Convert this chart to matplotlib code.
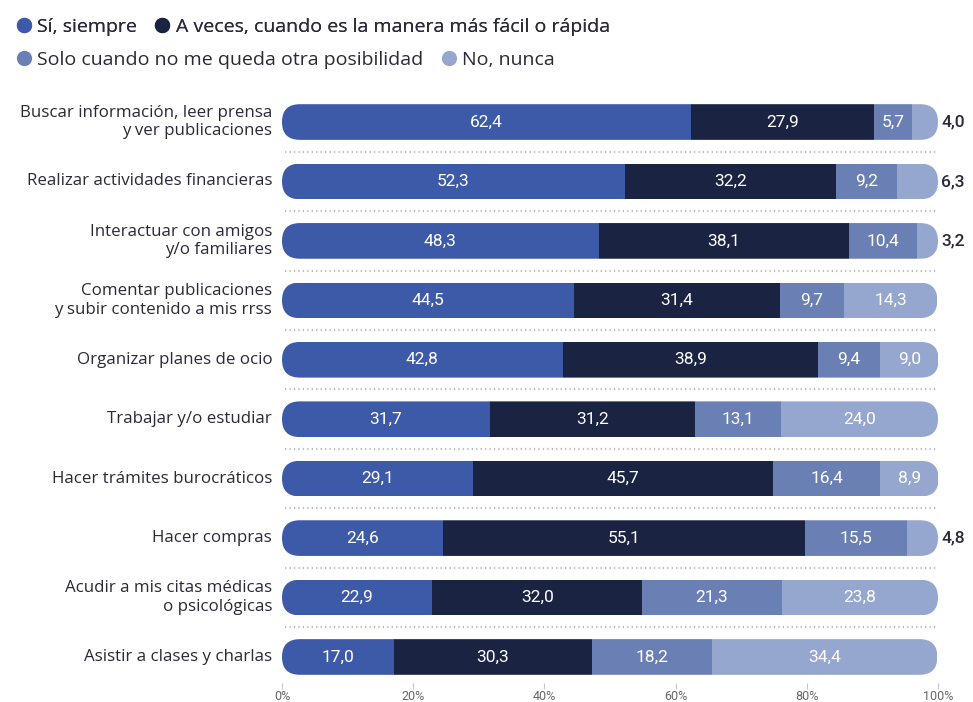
import numpy as np
import matplotlib
matplotlib.use("Agg")
import matplotlib.pyplot as plt
from matplotlib.patches import FancyBboxPatch
from matplotlib.lines import Line2D

plt.rcParams['font.family'] = ['Roboto', 'DejaVu Sans']
label_font = ['Open Sans', 'DejaVu Sans']

categories = [
    "Buscar información, leer prensa\ny ver publicaciones",
    "Realizar actividades financieras",
    "Interactuar con amigos\ny/o familiares",
    "Comentar publicaciones\ny subir contenido a mis rrss",
    "Organizar planes de ocio",
    "Trabajar y/o estudiar",
    "Hacer trámites burocráticos",
    "Hacer compras",
    "Acudir a mis citas médicas\no psicológicas",
    "Asistir a clases y charlas",
]
siempre = [62.4, 52.3, 48.3, 44.5, 42.8, 31.7, 29.1, 24.6, 22.9, 17.0]
a_veces = [27.9, 32.2, 38.1, 31.4, 38.9, 31.2, 45.7, 55.1, 32.0, 30.3]
solo_cuando = [5.7, 9.2, 10.4, 9.7, 9.4, 13.1, 16.4, 15.5, 21.3, 18.2]
nunca = [4.0, 6.3, 3.2, 14.3, 9.0, 24.0, 8.9, 4.8, 23.8, 34.4]

series_names = ["Sí, siempre", "A veces, cuando es la manera más fácil o rápida",
                "Solo cuando no me queda otra posibilidad", "No, nunca"]
colors = ["#3d5aa8", "#1a2341", "#6a7fb4", "#95a6cf"]
text_dark = "#2a2a38"

W, H = 973, 702
fig = plt.figure(figsize=(W / 100, H / 100), dpi=100)
n = len(categories)
row_px = 59.44
ax_left, ax_right = 282, 938
ax_top, ax_bot = 92.3, 683
ax = fig.add_axes([ax_left / W, 1 - ax_bot / H, (ax_right - ax_left) / W, (ax_bot - ax_top) / H])

y = np.arange(n)
ax.set_xlim(0, 100)
ax.set_ylim(-0.5 + (ax_bot - ax_top) / row_px, -0.5)

bar_h = 0.6
# rounded-end radius in x data units, and y/x scaling so the ends stay circular
px_per_x = (ax_right - ax_left) / 100
radius_px = bar_h * row_px / 2
r_x = radius_px / px_per_x
aspect = (radius_px / row_px) / r_x

data = np.array([siempre, a_veces, solo_cuando, nunca])
lefts = np.zeros(n)
for k in range(4):
    bars = ax.barh(y, data[k], left=lefts, height=bar_h, color=colors[k], linewidth=0)
    for i, b in enumerate(bars):
        total = data[:, i].sum()
        clip = FancyBboxPatch((0, i - bar_h / 2), total, bar_h,
                              boxstyle=f"round,pad=0,rounding_size={r_x}",
                              mutation_aspect=aspect, transform=ax.transData,
                              fc="none", ec="none")
        ax.add_patch(clip)
        b.set_clip_path(clip)
    for i in range(n):
        v = data[k][i]
        label = f"{v:.1f}".replace(".", ",")
        if k == 3 and v < 7:
            ax.text(data[:, i].sum() + 0.5, i, label, ha="left", va="center",
                    fontsize=12.5, color=text_dark, fontweight="medium")
        else:
            ax.text(lefts[i] + v / 2, i, label, ha="center", va="center",
                    fontsize=12.5, color="white")
    lefts += data[k]

# dotted separators between rows
for i in range(n - 1):
    ax.plot([0.5, 100.3], [i + 0.5, i + 0.5], color="#bdbdbd", lw=1.6,
            linestyle=(0, (0.6, 1.4)), solid_capstyle="round")

for i, cat in enumerate(categories):
    ax.text(-1.5, i, cat, ha="right", va="center", fontsize=12.2,
            color=text_dark, linespacing=1.2, family=label_font)

for s in ax.spines.values():
    s.set_visible(False)
ax.set_yticks([])
ax.set_xticks(np.arange(0, 101, 20))
ax.set_xticklabels([f"{t}%" for t in range(0, 101, 20)])
ax.tick_params(axis="x", length=4, width=0.8, color="#c8c8c8", labelsize=9,
               labelcolor="#666666", pad=1)

handles = [Line2D([], [], marker="o", linestyle="none", markersize=11,
                  markerfacecolor=c, markeredgecolor="none") for c in colors]
legend_kw = dict(loc="center left", ncol=2, frameon=False,
                 prop={"family": label_font, "size": 14},
                 handletextpad=0.2, columnspacing=0.8, handlelength=1.0,
                 labelcolor=text_dark, borderaxespad=0, borderpad=0)
leg1 = fig.legend(handles[:2], series_names[:2],
                  bbox_to_anchor=(14 / W, 1 - 27 / H), **legend_kw)
fig.add_artist(leg1)
fig.legend(handles[2:], series_names[2:],
           bbox_to_anchor=(14 / W, 1 - 60 / H), **legend_kw)

fig.savefig("out.png", dpi=100, facecolor="white")
